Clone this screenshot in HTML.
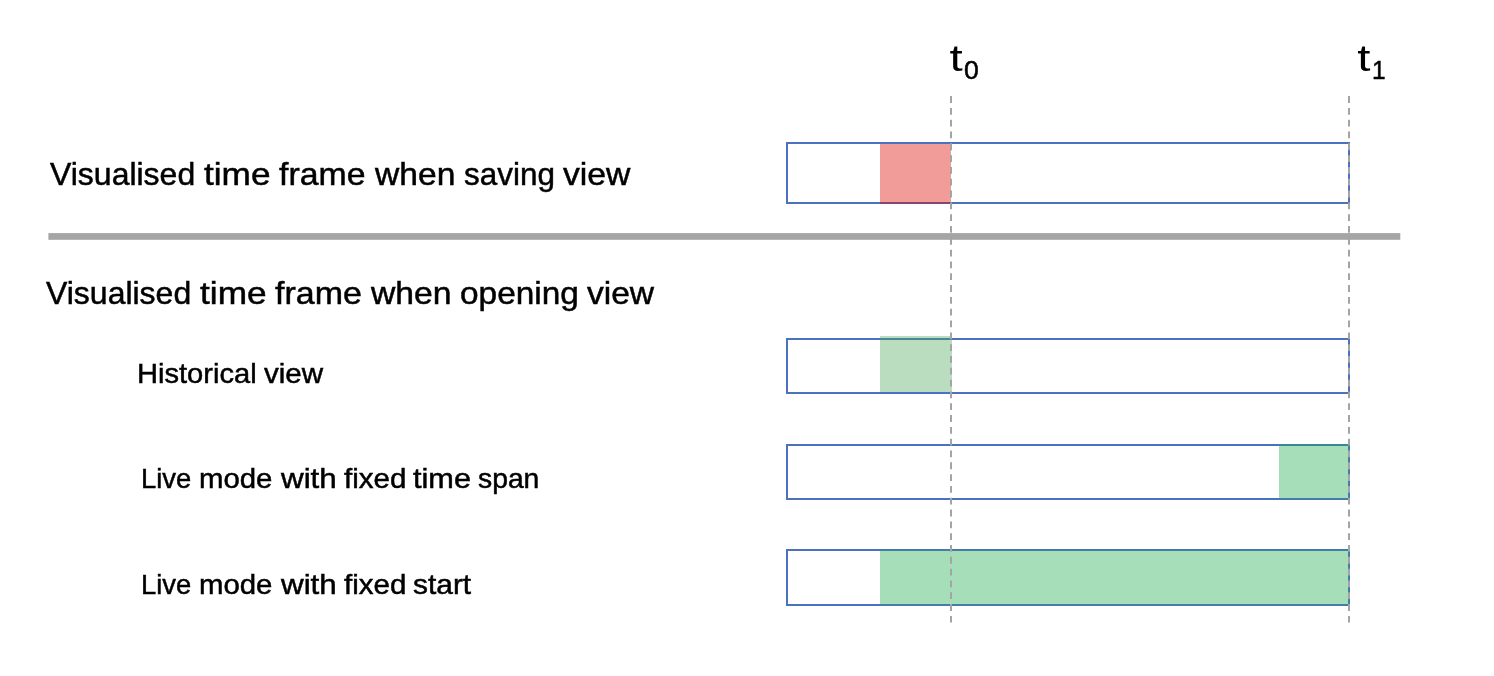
<!DOCTYPE html>
<html lang="en">
<head>
<meta charset="utf-8">
<title>Visualised time frame</title>
<style>
  html, body { margin: 0; padding: 0; background: #ffffff; }
  body { width: 1494px; height: 676px; position: relative; overflow: hidden;
         font-family: "Liberation Sans", sans-serif; color: #000; }
  #shapes { position: absolute; left: 0; top: 0; width: 1494px; height: 676px; display: block; }
  .line { position: absolute; left: 0; width: 1494px; white-space: nowrap; line-height: 1;
          will-change: transform; -webkit-text-stroke: 0.5px #000; }
  .line span { position: absolute; top: 0; white-space: nowrap; transform-origin: 0 0; }
  .title { font-size: 32.0px; height: 32.0px; }
  .sub   { font-size: 28.5px; height: 28.5px; }
  .tick  { position: absolute; white-space: nowrap; line-height: 1; will-change: transform;
           -webkit-text-stroke: 0.5px #000; }
  .tick span, .tick sub { position: absolute; top: 0; left: 0; display: block; line-height: 1; transform-origin: 0 0; }
</style>
</head>
<body>
<svg id="shapes" width="1494" height="676" viewBox="0 0 1494 676">
  <!-- bar outlines -->
  <g fill="none" stroke="#4c71be" stroke-width="2" shape-rendering="crispEdges">
    <rect x="787" y="143" width="562" height="60"/>
    <rect x="787" y="339" width="562" height="54"/>
    <rect x="787" y="445" width="562" height="54"/>
    <rect x="787" y="550" width="562" height="55"/>
  </g>
  <!-- translucent fills -->
  <g shape-rendering="crispEdges">
    <rect x="880" y="144" width="71" height="60" fill="rgba(220,8,0,0.4)"/>
    <rect x="880" y="336" width="72" height="56" fill="rgba(80,170,93,0.4)"/>
    <rect x="1279" y="444" width="70" height="55" fill="rgba(33,173,83,0.4)"/>
    <rect x="880" y="550" width="469" height="55" fill="rgba(33,173,83,0.4)"/>
  </g>
  <!-- separator -->
  <rect x="48.4" y="233.1" width="1351.9" height="6.7" fill="#a5a5a5"/>
  <!-- dashed guides -->
  <g stroke="#a4a4a4" stroke-width="2" stroke-dasharray="6.8 5.014" fill="none">
    <line x1="951" y1="96.1" x2="951" y2="622.5"/>
    <line x1="1349" y1="96.1" x2="1349" y2="622.5"/>
  </g>
</svg>
<div class="line title" id="t1" style="top:158px"><span style="left:50.26px;transform:scaleX(0.9993)">Visualised</span> <span style="left:204.03px;transform:scaleX(1.0994)">time</span> <span style="left:279.45px;transform:scaleX(1.0568)">frame</span> <span style="left:375.16px;transform:scaleX(1.0500)">when</span> <span style="left:464.39px;transform:scaleX(0.9825)">saving</span> <span style="left:562.62px;transform:scaleX(1.0539)">view</span></div>
<div class="line title" id="t2" style="top:277px"><span style="left:46.26px;transform:scaleX(0.9993)">Visualised</span> <span style="left:200.02px;transform:scaleX(1.1016)">time</span> <span style="left:275.45px;transform:scaleX(1.0617)">frame</span> <span style="left:371.17px;transform:scaleX(1.0529)">when</span> <span style="left:459.98px;transform:scaleX(1.0437)">opening</span> <span style="left:586.62px;transform:scaleX(1.0478)">view</span></div>
<div class="line sub" id="s1" style="top:359px"><span style="left:137.18px;transform:scaleX(1.0211)">Historical</span> <span style="left:263.74px;transform:scaleX(1.0374)">view</span></div>
<div class="line sub" id="s2" style="top:464px"><span style="left:141.17px;transform:scaleX(0.9609)">Live</span> <span style="left:198.97px;transform:scaleX(1.0303)">mode</span> <span style="left:280.81px;transform:scaleX(1.1006)">with</span> <span style="left:343.60px;transform:scaleX(1.0362)">fixed</span> <span style="left:413.08px;transform:scaleX(1.0767)">time</span> <span style="left:478.43px;transform:scaleX(0.9927)">span</span></div>
<div class="line sub" id="s3" style="top:570px"><span style="left:141.17px;transform:scaleX(0.9609)">Live</span> <span style="left:198.97px;transform:scaleX(1.0303)">mode</span> <span style="left:280.81px;transform:scaleX(1.1006)">with</span> <span style="left:343.60px;transform:scaleX(1.0362)">fixed</span> <span style="left:413.14px;transform:scaleX(1.0493)">start</span></div>
<div class="tick" id="k0" style="left:0;top:0"><span style="left:950px;top:41px;font-size:36px;transform:translateX(-0.5px) scaleX(1.32);-webkit-text-stroke:0">t</span><sub style="left:963.64px;top:58px;font-size:25px;transform:scaleX(1.0644)">0</sub></div>
<div class="tick" id="k1" style="left:0;top:0"><span style="left:1358px;top:41px;font-size:36px;transform:translateX(-0.7px) scaleX(1.32);-webkit-text-stroke:0">t</span><sub style="left:1372.0px;top:58px;font-size:25px;transform:scaleX(0.9783)">1</sub></div>
</body>
</html>
